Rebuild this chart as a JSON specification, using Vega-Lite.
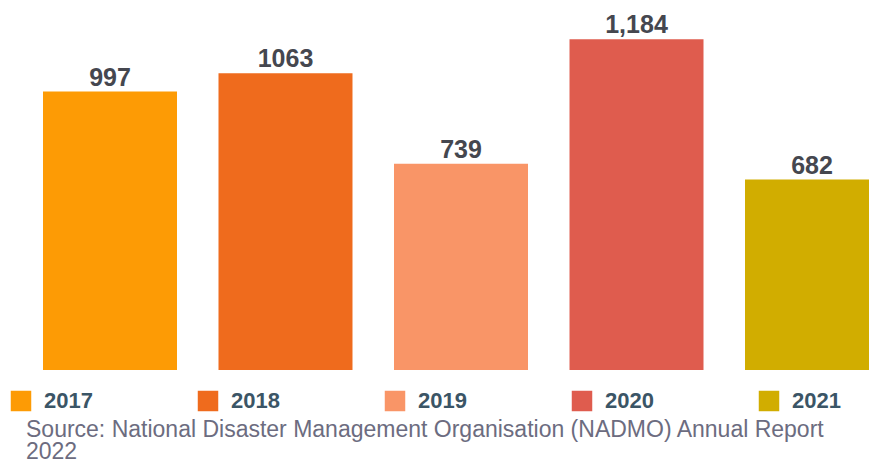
{
  "$schema": "https://vega.github.io/schema/vega-lite/v6.json",
  "autosize": "none",
  "padding": {"left": 0, "top": 0, "right": 0, "bottom": 94},
  "width": 922,
  "height": 370,
  "background": "white",
  "config": {"view": {"stroke": null}, "font": "Liberation Sans"},
  "data": {"values": [
    {"year": "2017", "value": 997, "label": "997"},
    {"year": "2018", "value": 1063, "label": "1063"},
    {"year": "2019", "value": 739, "label": "739"},
    {"year": "2020", "value": 1184, "label": "1,184"},
    {"year": "2021", "value": 682, "label": "682"}
  ]},
  "title": {
    "text": ["Source: National Disaster Management Organisation (NADMO) Annual Report", "2022"],
    "orient": "bottom",
    "anchor": "start",
    "frame": "group",
    "dx": 26,
    "offset": 7,
    "fontSize": 23,
    "fontWeight": "normal",
    "color": "#6c6c80",
    "font": "Liberation Sans",
    "lineHeight": 22
  },
  "encoding": {
    "x": {"field": "year", "type": "nominal", "axis": null,
          "scale": {"paddingInner": 0.2365, "paddingOuter": 0.245}},
    "y": {"field": "value", "type": "quantitative", "axis": null,
          "scale": {"domain": [0, 1325]}}
  },
  "layer": [
    {
      "mark": {"type": "bar"},
      "encoding": {
        "color": {"field": "year", "type": "nominal",
          "scale": {"domain": ["2017", "2018", "2019", "2020", "2021"],
                    "range": ["#fd9b05", "#ef6b1d", "#f99567", "#df5c4e", "#d1ad00"]},
          "legend": {
            "orient": "none", "legendX": 10, "legendY": 390,
            "direction": "horizontal", "columns": 5,
            "title": null,
            "symbolType": "square", "symbolSize": 420, "symbolStrokeWidth": 0,
            "symbolOpacity": 1,
            "labelFontSize": 22, "labelFontWeight": "bold", "labelColor": "#3b5566",
            "labelFont": "Liberation Sans",
            "labelOffset": 12, "columnPadding": 104
          }}
      }
    },
    {
      "mark": {"type": "text", "baseline": "alphabetic", "dy": -6, "fontSize": 25,
               "fontWeight": "bold", "color": "#45474f"},
      "encoding": {"text": {"field": "label", "type": "nominal"}}
    }
  ]
}
